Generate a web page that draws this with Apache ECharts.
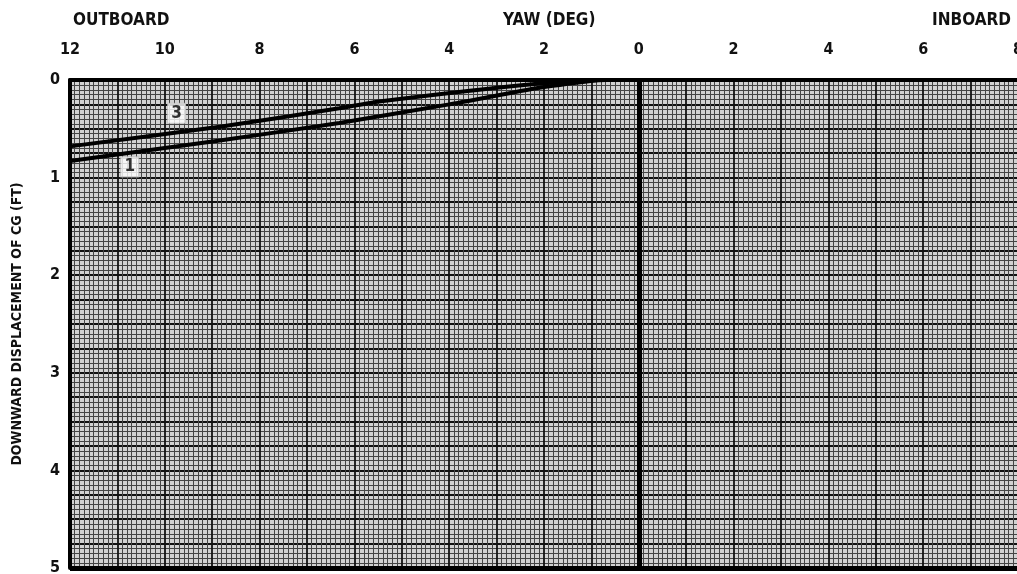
<!DOCTYPE html>
<html>
<head>
<meta charset="utf-8">
<script src="https://cdn.jsdelivr.net/npm/echarts@6/dist/echarts.min.js"></script>
<style>
html,body{margin:0;padding:0;background:#fff;}
#chart{width:1017px;height:574px;}
</style>
</head>
<body>
<div id="chart"></div>
<script>
// Yaw in degrees: outboard side is plotted to the left of zero (stored as positive outboard degrees)
const curve3Yaw = [12, 8.84, 6.32, 5.48, 2.2, 0.7];
const curve3Disp = [0.68, 0.48, 0.29, 0.22, 0.04, 0];
const curve1Yaw = [12, 8.84, 6.32, 4.0, 2.1, 0.86];
const curve1Disp = [0.83, 0.62, 0.44, 0.25, 0.08, 0];
const curveLabels = ['3', '1'];
const labelYaw = [9.75, 10.74];
const labelDisp = [0.34, 0.89];
const xTickValues = [12, 10, 8, 6, 4, 2, 0, 2, 4, 6, 8];
const yTickValues = [0, 1, 2, 3, 4, 5];

const FONT = "'DejaVu Sans Condensed','Liberation Sans Narrow',sans-serif";
const chart = echarts.init(document.getElementById('chart'));

function pts(yaw, disp){ return yaw.map((v,i)=>[-v, disp[i]]); }

chart.setOption({
  animation: false,
  backgroundColor: '#fff',
  grid: {left: 70, top: 80, right: -1, bottom: 6, show: true, backgroundColor: '#d2d2d2', borderWidth: 0,
    containLabel: false, outerBoundsMode: 'none'},
  graphic: [
    {type: 'text', left: 73, top: 12, style: {text: 'OUTBOARD', font: 'bold 17px ' + FONT, fill: '#111'}},
    {type: 'text', left: 503, top: 12, style: {text: 'YAW (DEG)', font: 'bold 17px ' + FONT, fill: '#111'}},
    {type: 'text', left: 932, top: 12, style: {text: 'INBOARD', font: 'bold 17px ' + FONT, fill: '#111'}}
  ],
  xAxis: {
    type: 'value', position: 'top', min: -12, max: 8, interval: 1,
    axisLine: {show: true, onZero: false, lineStyle: {color: '#000', width: 4}},
    axisTick: {show: false},
    axisLabel: {
      margin: 22, color: '#111', fontFamily: FONT, fontWeight: 'bold', fontSize: 16,
      formatter: v => (Math.round(v) % 2 === 0 ? String(Math.abs(Math.round(v))) : '')
    },
    splitLine: {show: true, lineStyle: {color: '#111', width: 1.8}},
    minorTick: {show: false, splitNumber: 10},
    minorSplitLine: {show: true, lineStyle: {color: '#454545', width: 1}}
  },
  yAxis: {
    type: 'value', inverse: true, min: 0, max: 5, interval: 0.25,
    name: 'DOWNWARD DISPLACEMENT OF CG (FT)', nameLocation: 'middle', nameRotate: 90, nameGap: 46,
    nameTextStyle: {color: '#111', fontFamily: FONT, fontWeight: 'bold', fontSize: 14},
    axisLine: {show: true, onZero: false, lineStyle: {color: '#000', width: 4}},
    axisTick: {show: false},
    axisLabel: {
      margin: 10, color: '#111', fontFamily: FONT, fontWeight: 'bold', fontSize: 16,
      formatter: v => (Math.abs(v - Math.round(v)) < 1e-6 ? String(Math.round(v)) : '')
    },
    splitLine: {show: true, lineStyle: {color: '#111', width: 1.8}},
    minorTick: {show: false, splitNumber: 5},
    minorSplitLine: {show: true, lineStyle: {color: '#454545', width: 1}}
  },
  series: [
    {
      type: 'line', data: pts(curve3Yaw, curve3Disp), symbol: 'none', smooth: 0.2,
      lineStyle: {color: '#000', width: 4}, z: 5,
      markLine: {
        silent: true, symbol: 'none', label: {show: false},
        lineStyle: {color: '#000', width: 5, type: 'solid'},
        data: [{xAxis: 0}, {yAxis: 5}]
      }
    },
    {
      type: 'line', data: pts(curve1Yaw, curve1Disp), symbol: 'none', smooth: 0.2,
      lineStyle: {color: '#000', width: 4}, z: 5
    },
    {
      type: 'scatter', z: 6,
      data: labelYaw.map((v,i)=>({value: [-v, labelDisp[i]], name: curveLabels[i]})),
      symbol: 'rect', symbolSize: [18, 20],
      itemStyle: {color: '#fff', borderColor: '#bbb', borderWidth: 1},
      label: {show: true, position: 'inside', formatter: p => p.name, color: '#000',
        fontFamily: FONT, fontWeight: 'bold', fontSize: 17}
    }
  ]
});
</script>
</body>
</html>
